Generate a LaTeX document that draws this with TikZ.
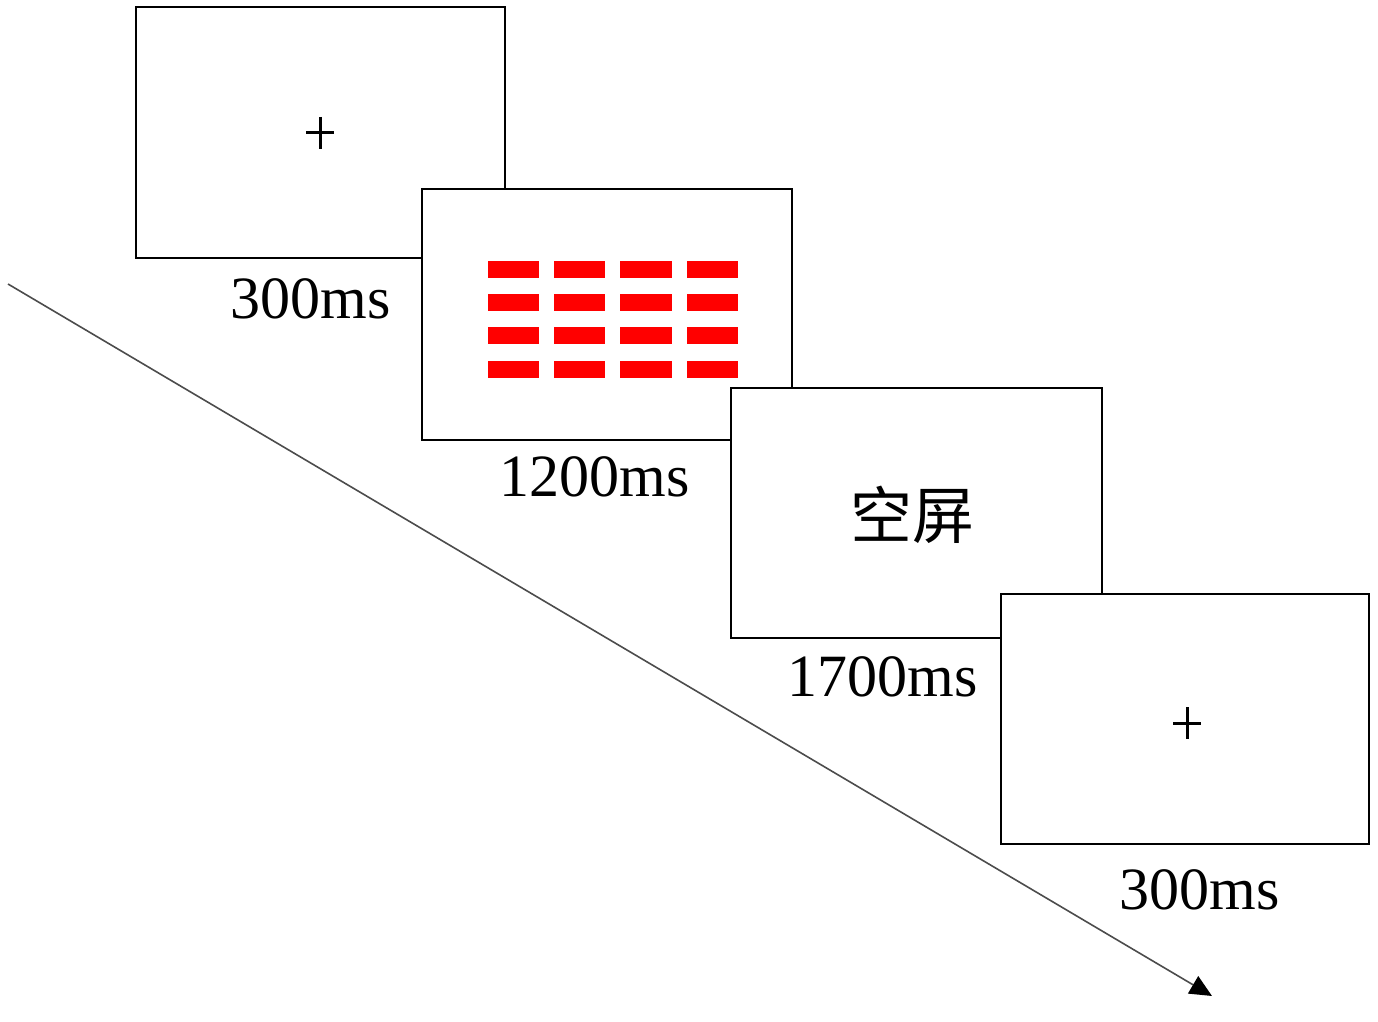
\documentclass[tikz,border=0pt]{standalone}
\usepackage{fontspec}
\setmainfont{Liberation Serif}
\newfontfamily\cjk{Noto Sans CJK SC}
\usetikzlibrary{arrows.meta}
\begin{document}
\begin{tikzpicture}[x=0.5pt,y=-0.5pt,
  screen/.style={draw=black,line width=1pt,fill=white,inner sep=0pt},
  lbl/.style={font=\fontsize{30}{32}\selectfont,inner sep=0pt},
  redbar/.style={fill=red,draw=none},
  plusmark/.style={line width=1.5pt,black}]
\useasboundingbox (0,0) rectangle (1378,1022);
\coordinate (tstart) at (8,284);
\coordinate (tend) at (1212,996);
\draw[line width=0.8pt,black!70,-{Triangle[length=11pt,width=10pt,color=black]}] (tstart) -- (tend);
% screen 1
\draw[screen] (136,7) rectangle (505,258);
\node[minimum size=0pt,inner sep=0pt] (p1) at (320,133) {};
\draw[plusmark] (306,133) -- (334,133) (320,117) -- (320,149);
\node[lbl] (l1) at (311,299) {300ms};
% screen 2
\draw[screen] (422,189) rectangle (792,440);
\foreach \x/\w in {488/51,554/51,620/52,687/51}{
  \foreach \y in {261,294,327,361}{
    \fill[redbar] (\x,\y) rectangle ++(\w,17);
  }
}
\node[lbl] (l2) at (595,477) {1200ms};
% screen 3
\draw[screen] (731,388) rectangle (1102,638);
\node[font=\cjk\fontsize{31}{33}\selectfont,inner sep=0pt] (t3) at (912,515) {空屏};
\node[lbl] (l3) at (883,677) {1700ms};
% screen 4
\draw[screen] (1001,594) rectangle (1369,844);
\draw[plusmark] (1173,723) -- (1201,723) (1187,707) -- (1187,739);
\node[lbl] (l4) at (1200,890) {300ms};
\end{tikzpicture}
\end{document}
